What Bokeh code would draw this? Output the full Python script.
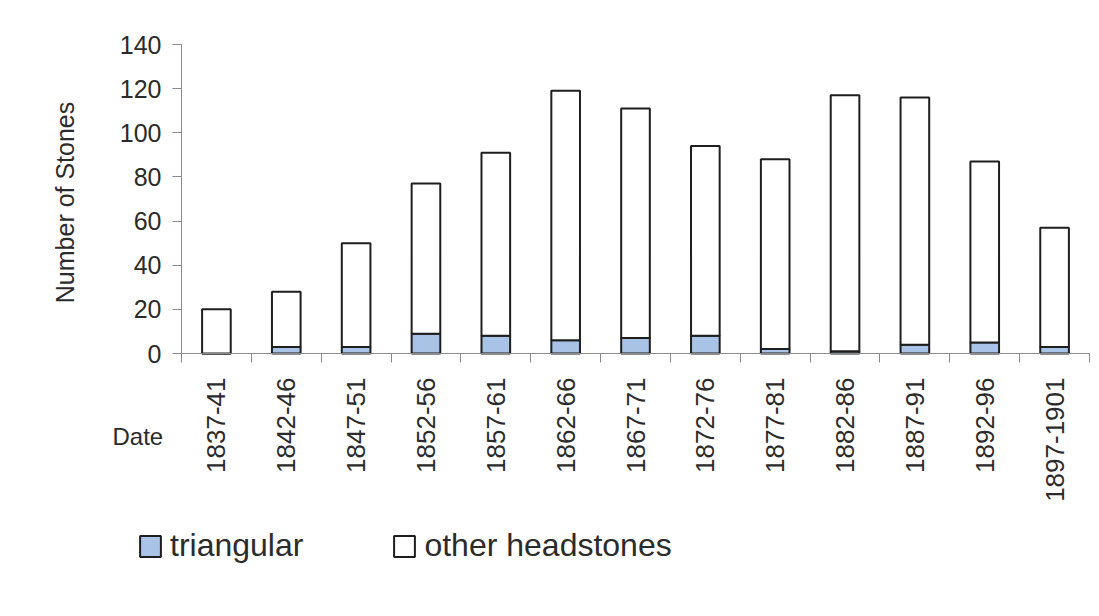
import math
from bokeh.plotting import figure
from bokeh.models import (ColumnDataSource, Range1d, FixedTicker, Legend,
                          LegendItem, Label)
from bokeh.embed import file_html
from bokeh.resources import INLINE

categories = ["1837-41", "1842-46", "1847-51", "1852-56", "1857-61", "1862-66",
              "1867-71", "1872-76", "1877-81", "1882-86", "1887-91", "1892-96",
              "1897-1901"]
triangular = [0, 3, 3, 9, 8, 6, 7, 8, 2, 1, 4, 5, 3]
totals = [20, 28, 50, 77, 91, 119, 111, 94, 88, 117, 116, 87, 57]
other = [t - tr for t, tr in zip(totals, triangular)]
y_ticks = [0, 20, 40, 60, 80, 100, 120, 140]
Y_MAX = 140

n = len(categories)
xs = list(range(n))
src = ColumnDataSource(dict(x=xs, triangular=triangular, other=other))

# layout geometry (pixels)
W, H = 1091, 606
AX_LEFT, AX_RIGHT = 181, 1089      # x-axis extent
AX_TOP, AX_ZERO = 44, 353          # y=140 and y=0 positions
px_per_cat = (AX_RIGHT - AX_LEFT) / n
px_per_unit = (AX_ZERO - AX_TOP) / Y_MAX
x_lo = -0.5 - AX_LEFT / px_per_cat
x_hi = n - 0.5 + (W - AX_RIGHT) / px_per_cat
y_lo = -(H - AX_ZERO) / px_per_unit
y_hi = Y_MAX + AX_TOP / px_per_unit

FONT = "Liberation Sans"
TXT = "#2b2b2b"
AXC = "#8a8a8a"

p = figure(width=W, height=H, output_backend="svg", toolbar_location=None,
           x_range=Range1d(x_lo, x_hi), y_range=Range1d(y_lo, y_hi),
           min_border=0)
p.outline_line_color = None
p.xgrid.visible = False
p.ygrid.visible = False
p.background_fill_color = "white"
p.border_fill_color = "white"

rs = p.vbar_stack(["triangular", "other"], x="x", width=0.41, source=src,
                  fill_color=["#a9c3e6", "white"], line_color="#1e1e1e",
                  line_width=2)

xa = p.xaxis[0]
xa.fixed_location = 0
xa.bounds = (-0.5, n - 0.5)
xa.ticker = FixedTicker(ticks=xs, minor_ticks=[i - 0.5 for i in range(n + 1)])
xa.major_label_overrides = {i: c for i, c in enumerate(categories)}
xa.major_label_orientation = math.pi / 2
xa.major_tick_out = 0
xa.major_tick_in = 0
xa.minor_tick_out = 9
xa.minor_tick_in = 0
xa.minor_tick_line_color = AXC
xa.axis_line_color = AXC
xa.major_label_standoff = 15
xa.major_label_text_font = FONT
xa.major_label_text_font_size = "26px"
xa.major_label_text_color = TXT

ya = p.yaxis[0]
ya.fixed_location = -0.5
ya.bounds = (0, Y_MAX)
ya.ticker = FixedTicker(ticks=y_ticks, minor_ticks=[])
ya.major_tick_out = 9
ya.major_tick_in = 0
ya.major_tick_line_color = AXC
ya.axis_line_color = AXC
ya.major_label_standoff = 11
ya.major_label_text_font = FONT
ya.major_label_text_font_size = "25px"
ya.major_label_text_color = TXT
ya.axis_label = "Number  of Stones"
ya.axis_label_text_font = FONT
ya.axis_label_text_font_size = "25px"
ya.axis_label_text_font_style = "normal"
ya.axis_label_text_color = TXT
ya.axis_label_standoff = 38

p.add_layout(Label(x=112, y=H - 436, x_units="screen", y_units="screen",
                   text="Date", text_font=FONT, text_font_size="24px",
                   text_color=TXT, text_baseline="middle", text_align="left"))

legend = Legend(items=[LegendItem(label="triangular", renderers=[rs[0]]),
                       LegendItem(label="other headstones", renderers=[rs[1]])],
                orientation="horizontal", location=(137, H - 564),
                label_text_font=FONT, label_text_font_size="32px",
                label_text_color=TXT, glyph_width=26, glyph_height=26,
                label_standoff=7, spacing=88, padding=0, margin=0,
                border_line_alpha=0, background_fill_alpha=0)
p.add_layout(legend, "center")

open("out.html", "w").write(file_html(p, INLINE))
